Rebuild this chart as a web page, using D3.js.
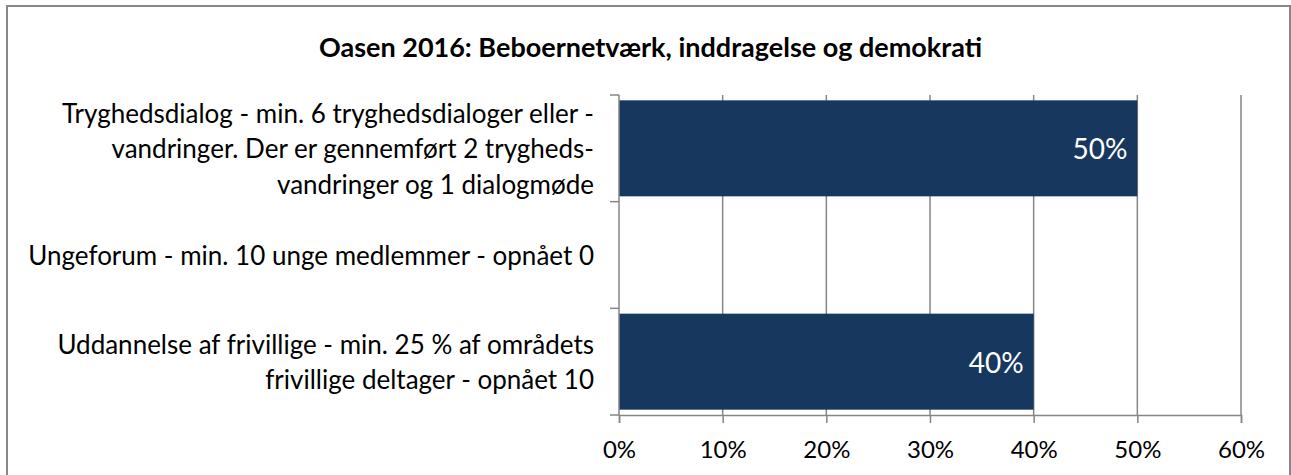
<!DOCTYPE html>
<html><head><meta charset="utf-8">
<script src="https://cdn.jsdelivr.net/npm/d3@7"></script>
<style>
html,body{margin:0;padding:0;background:#fff;}
svg{display:block;font-family:Lato, "Open Sans", sans-serif;}
</style></head>
<body><svg id="chart" width="1291" height="475"></svg>
<script>
const title = "Oasen 2016: Beboernetværk, inddragelse og demokrati";
const categories = [
  "Tryghedsdialog - min. 6 tryghedsdialoger eller -\nvandringer. Der er gennemført 2 trygheds-\nvandringer og 1 dialogmøde",
  "Ungeforum - min. 10 unge medlemmer - opnået 0",
  "Uddannelse af frivillige - min. 25 % af områdets\nfrivillige deltager - opnået 10"
];
const values = [0.5, 0, 0.4];
const xTicks = [0, 0.1, 0.2, 0.3, 0.4, 0.5, 0.6];

const svg = d3.select("#chart");
const pL = 619, pR = 1241, pT = 95, pB = 415;
const barColor = "#17375E", gridColor = "#868686";

// outer border
svg.append("rect").attr("x", 7).attr("y", 6).attr("width", 1283).attr("height", 480)
  .attr("fill", "#fff").attr("stroke", "#888").attr("stroke-width", 2);

svg.append("text").attr("x", 650.5).attr("y", 46).attr("text-anchor", "middle")
  .attr("dominant-baseline", "central").attr("font-weight", "bold").attr("font-size", 27)
  .attr("fill", "#000").text(title);

const x = d3.scaleLinear().domain([0, 0.6]).range([pL, pR]);
const y = d3.scaleBand().domain(categories).range([pT, pB]).paddingInner(0.1).paddingOuter(0.05);

// gridlines
svg.append("g").selectAll("line").data(xTicks.slice(1)).join("line")
  .attr("x1", d => x(d)).attr("x2", d => x(d)).attr("y1", pT).attr("y2", pB)
  .attr("stroke", gridColor).attr("stroke-width", 1.5);

// bars
svg.append("g").selectAll("rect").data(values).join("rect")
  .attr("x", x(0)).attr("y", (d, i) => y(categories[i]))
  .attr("width", d => x(d) - x(0)).attr("height", y.bandwidth())
  .attr("fill", barColor);

// bar labels
svg.append("g").selectAll("text").data(values.map((v, i) => ({v, c: categories[i]})).filter(d => d.v > 0)).join("text")
  .attr("x", d => x(d.v) - 10).attr("y", d => y(d.c) + y.bandwidth() / 2)
  .attr("text-anchor", "end").attr("dominant-baseline", "central")
  .attr("fill", "#fff").attr("font-size", 28).text(d => d3.format(".0%")(d.v));

// x axis
const xAxis = d3.axisBottom(x).tickValues(xTicks).tickFormat(d3.format(".0%")).tickSize(8).tickPadding(18);
const gx = svg.append("g").attr("transform", `translate(0,${pB})`).call(xAxis);
gx.select(".domain").attr("stroke", gridColor).attr("stroke-width", 1.5);
gx.selectAll(".tick line").attr("stroke", gridColor).attr("stroke-width", 1.5);
gx.selectAll(".tick text").attr("font-size", 24).attr("font-family", "Lato").attr("fill", "#000");

// y axis: ticks at band boundaries
const ySteps = d3.range(categories.length + 1).map(i => pT + i * (pB - pT) / categories.length);
svg.append("line").attr("x1", pL).attr("x2", pL).attr("y1", pT).attr("y2", pB)
  .attr("stroke", gridColor).attr("stroke-width", 1.5);
svg.append("g").selectAll("line").data(ySteps).join("line")
  .attr("x1", pL - 9).attr("x2", pL).attr("y1", d => d).attr("y2", d => d)
  .attr("stroke", gridColor).attr("stroke-width", 1.5);

// category labels
const lh = 35.5;
const lab = svg.append("g").selectAll("text").data(categories).join("text")
  .attr("text-anchor", "end").attr("font-size", 26).attr("fill", "#000")
  .attr("transform", d => `translate(594,${y(d) + y.bandwidth() / 2})`);
lab.each(function(d) {
  const lines = d.split("\n");
  const t = d3.select(this);
  lines.forEach((l, i) => {
    t.append("tspan").attr("x", 0).attr("y", (i - (lines.length - 1) / 2) * lh)
      .attr("dominant-baseline", "central").text(l);
  });
});
</script></body></html>
